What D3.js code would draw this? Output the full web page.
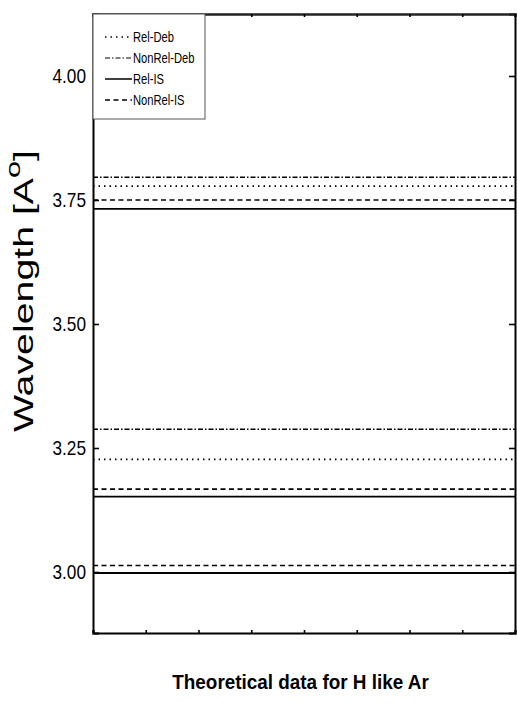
<!DOCTYPE html>
<html><head><meta charset="utf-8">
<script src="https://cdn.jsdelivr.net/npm/d3@7/dist/d3.min.js"></script>
<style>body{margin:0;background:#fff}svg{display:block}</style>
</head><body>
<svg id="c" width="517" height="704"></svg>
<script>
const seriesNames = ["Rel-Deb","NonRel-Deb","Rel-IS","NonRel-IS"];
const relDeb    = [3.778, 3.227];
const nonRelDeb = [3.796, 3.288];
const relIS     = [3.732, 3.152, 2.998];
const nonRelIS  = [3.750, 3.167, 3.013];
const yTicks = [3.00, 3.25, 3.50, 3.75, 4.00];
const yDomain = [2.877, 4.125];
const xTickCount = 8;

const seriesValues = [relDeb, nonRelDeb, relIS, nonRelIS];
const dashes = ["1.5,4", "5,2,1.5,2", null, "5,3.5"];
const widths = [1.6, 1.5, 1.8, 1.6];

const L=93, R=515, T=14, B=633;
const svg = d3.select("#c");
const y = d3.scaleLinear().domain(yDomain).range([B,T]);
const x = d3.scaleLinear().domain([0,xTickCount]).range([L,R]);
const sans = "'Liberation Sans',Arial,sans-serif";

// horizontal lines
seriesValues.forEach((vals,i)=>{
  svg.append("g").selectAll("line").data(vals).join("line")
    .attr("x1",L).attr("x2",R)
    .attr("y1",d=>y(d)).attr("y2",d=>y(d))
    .attr("stroke","#000").attr("stroke-width",widths[i])
    .attr("stroke-dasharray",dashes[i]);
});

// axes
const yl = svg.append("g").attr("transform",`translate(${L},0)`)
  .call(d3.axisRight(y).tickValues(yTicks).tickSize(6).tickFormat(""));
const yr = svg.append("g").attr("transform",`translate(${R},0)`)
  .call(d3.axisLeft(y).tickValues(yTicks).tickSize(6).tickFormat(""));
const xt = svg.append("g").attr("transform",`translate(0,${T})`)
  .call(d3.axisBottom(x).ticks(xTickCount).tickSize(3).tickFormat(""));
const xb = svg.append("g").attr("transform",`translate(0,${B})`)
  .call(d3.axisTop(x).ticks(xTickCount).tickSize(3).tickFormat(""));
[yl,yr,xt,xb].forEach(g=>{
  g.select(".domain").attr("stroke","#000").attr("stroke-width",2);
  g.selectAll(".tick line").attr("stroke","#000").attr("stroke-width",1.6);
});
xt.select(".domain").attr("stroke-width",2.5).attr("stroke","#222");

// y tick labels (condensed)
svg.append("g").selectAll("text").data(yTicks).join("text")
  .attr("transform",d=>`translate(86,${y(d)+7.5}) scale(0.82,1)`)
  .attr("text-anchor","end")
  .attr("font-family",sans).attr("font-size",21)
  .text(d=>d.toFixed(2));

// y axis title
const yt = svg.append("text")
  .attr("transform","translate(33,432) rotate(-90)")
  .attr("font-family",sans).attr("font-size",27)
  .attr("textLength",282).attr("lengthAdjust","spacingAndGlyphs");
yt.append("tspan").text("Wavelength [A");
yt.append("tspan").attr("dy",-13).attr("font-size",21).text("o");
yt.append("tspan").attr("dy",13).text("]");

// x title (condensed bold)
svg.append("text")
  .attr("transform","translate(300.5,689) scale(0.9,1)")
  .attr("text-anchor","middle")
  .attr("font-family",sans).attr("font-weight","bold").attr("font-size",21)
  .text("Theoretical data for H like Ar");

// legend
const lg = svg.append("g");
lg.append("rect").attr("x",L).attr("y",T).attr("width",112).attr("height",105)
  .attr("fill","#fff").attr("stroke","#555").attr("stroke-width",1);
const ly = d3.scaleLinear().domain([0,3]).range([37,100]);
seriesNames.forEach((n,i)=>{
  lg.append("line").attr("x1",105).attr("x2",132)
    .attr("y1",ly(i)).attr("y2",ly(i))
    .attr("stroke","#000").attr("stroke-width",widths[i]-0.3)
    .attr("stroke-dasharray",dashes[i]);
  lg.append("text").attr("transform",`translate(133,${ly(i)+5}) scale(0.8,1)`)
    .attr("font-family",sans).attr("font-size",14).text(n);
});
</script>
</body></html>
